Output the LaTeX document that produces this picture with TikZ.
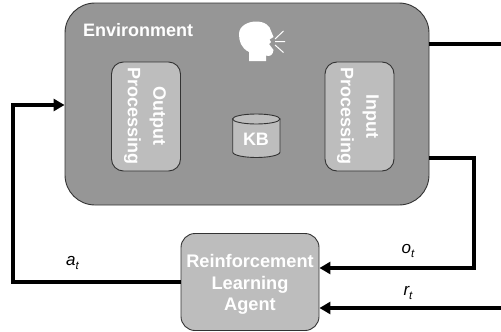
\documentclass[tikz,border=0pt]{standalone}
\usepackage{fontspec}
\setmainfont{Liberation Sans}
\usetikzlibrary{arrows.meta}
\definecolor{envgray}{HTML}{969696}
\definecolor{boxgray}{HTML}{BDBDBD}
\definecolor{edgegray}{HTML}{333333}
\tikzset{
  envbox/.style={draw=edgegray,line width=0.9pt,fill=envgray,rounded corners=30pt,minimum width=364pt,minimum height=202pt,inner sep=0pt},
  procbox/.style={draw=edgegray,line width=0.9pt,fill=boxgray,rounded corners=12pt,minimum width=69pt,minimum height=109pt,inner sep=0pt},
  agentbox/.style={draw=edgegray,line width=0.9pt,fill=boxgray,rounded corners=14pt,minimum width=138pt,minimum height=97pt,inner sep=0pt},
  kbcyl/.style={draw=edgegray,line width=0.9pt,fill=boxgray},
  whitetxt/.style={text=white,font=\fontsize{18}{25.5}\selectfont\bfseries,align=center,inner sep=0pt},
  flow/.style={line width=3.4pt,draw=black,-{Triangle[length=11pt,width=12pt]}},
  plainflow/.style={line width=3.4pt,draw=black},
  mathlbl/.style={font=\fontsize{17}{20}\selectfont\itshape,inner sep=0pt}
}
\begin{document}
\begin{tikzpicture}[x=1pt,y=-1pt]
\useasboundingbox (0,0) rectangle (501,332);
\coordinate (tr) at (501,44);
\coordinate (rr) at (501,308);
\coordinate (oc) at (474,158);
\coordinate (oc2) at (474,268);
\coordinate (ac) at (13,282);
\coordinate (ac2) at (13,105);
\node[envbox] (env) at (247,104) {};
\node[procbox] (out) at (146,116.5) {};
\node[procbox] (inp) at (359.5,116.5) {};
\draw[kbcyl] (232.7,119) -- (232.7,152) .. controls (232.7,155.5) and (245,157.5) .. (256.3,157.5)
  .. controls (268,157.5) and (280,155.5) .. (280,152) -- (280,119) -- cycle;
\draw[kbcyl] (256.3,119) ellipse [x radius=23.7pt,y radius=5pt];
\node[whitetxt] (kblbl) at (256,139) {KB};
\node[agentbox] (agent) at (250,282) {};
\node[whitetxt,anchor=west] (envlbl) at (83,30) {Environment};
\node[whitetxt,rotate=-90] (outlbl) at (145,116) {Output\\Processing};
\node[whitetxt,rotate=-90] (inplbl) at (358,116) {Input\\Processing};
\node[whitetxt,font=\fontsize{18.2}{21.6}\selectfont\bfseries] (aglbl) at (250,284.5) {Reinforcement\\Learning\\Agent};
\node[mathlbl] (al) at (72.5,263) {a\raisebox{-0.35ex}{\fontsize{11.5}{11.5}\selectfont t}};
\node[mathlbl] (ol) at (408,251) {o\raisebox{-0.35ex}{\fontsize{11.5}{11.5}\selectfont t}};
\node[mathlbl] (rl) at (408,293) {r\raisebox{-0.35ex}{\fontsize{11.5}{11.5}\selectfont t}};
% speaking head icon
\fill[white] (249,61) -- (249,52) .. controls (241,48) and (239,41) .. (239,34)
  .. controls (239,26) and (248,21.5) .. (256,21.5)
  .. controls (265,21.5) and (270,26) .. (271,31)
  .. controls (272,34) and (273,35) .. (273.5,37)
  -- (269.5,39.5) -- (271,42) -- (269,44) -- (273.5,50)
  .. controls (273,55) and (270,57) .. (266,55.5)
  -- (266,61) -- cycle;
\draw[white,line width=1pt] (275,39) -- (283.5,31) (275,41.7) -- (285,41.7) (275,45) -- (283.5,52.5);
% connectors
\draw[plainflow] (429,44) -- (tr);
\draw[flow] (429,158) -- (oc) -- (oc2) -- (agent.east |- oc2);
\draw[flow] (rr) -- (agent.east |- rr);
\draw[flow] (agent.west) -- (ac) -- (ac2) -- (env.west |- ac2);
\end{tikzpicture}
\end{document}
